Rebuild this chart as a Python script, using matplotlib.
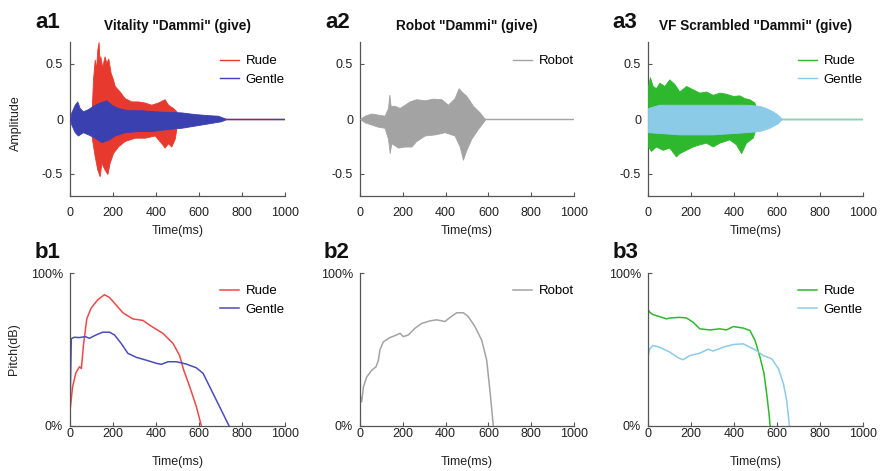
import matplotlib
matplotlib.use("Agg")
import matplotlib.pyplot as plt

plt.rcParams['font.family'] = ['Liberation Sans', 'DejaVu Sans']
plt.rcParams['axes.unicode_minus'] = False

# ---------------- waveform envelopes (time ms, amplitude) ----------------
a1_rude_up_t = [99, 107, 115, 121, 127, 133, 137, 141, 150, 156, 161, 169, 178, 189, 200, 208, 231, 254, 285, 316, 347, 378, 409, 440, 456, 479, 495, 502]
a1_rude_up_v = [0.0, 0.36, 0.54, 0.45, 0.63, 0.70, 0.52, 0.57, 0.47, 0.53, 0.57, 0.51, 0.55, 0.42, 0.36, 0.30, 0.25, 0.19, 0.16, 0.16, 0.15, 0.13, 0.15, 0.18, 0.13, 0.10, 0.07, 0.0]
a1_rude_lo_t = [99, 102, 115, 127, 138, 146, 161, 174, 184, 200, 223, 254, 301, 347, 394, 425, 440, 456, 471, 487, 502]
a1_rude_lo_v = [0.0, -0.18, -0.34, -0.46, -0.52, -0.40, -0.46, -0.50, -0.40, -0.31, -0.25, -0.20, -0.17, -0.17, -0.15, -0.22, -0.26, -0.22, -0.25, -0.18, 0.0]
a1_gent_up_t = [0, 6, 22, 34, 45, 60, 84, 107, 138, 169, 192, 223, 270, 332, 394, 456, 518, 580, 642, 688, 712, 727]
a1_gent_up_v = [0.0, 0.06, 0.13, 0.16, 0.10, 0.07, 0.09, 0.12, 0.15, 0.17, 0.13, 0.10, 0.08, 0.08, 0.07, 0.065, 0.06, 0.045, 0.035, 0.03, 0.012, 0.0]
a1_gent_lo_t = [0, 6, 22, 37, 60, 84, 115, 146, 177, 208, 254, 316, 378, 456, 518, 580, 642, 704, 727]
a1_gent_lo_v = [0.0, -0.05, -0.12, -0.15, -0.12, -0.14, -0.17, -0.21, -0.19, -0.15, -0.12, -0.11, -0.11, -0.09, -0.08, -0.06, -0.04, -0.02, 0.0]

a2_robot_up_t = [0, 22, 53, 84, 115, 131, 137, 143, 162, 185, 209, 232, 263, 302, 341, 380, 411, 442, 461, 474, 497, 528, 559, 579, 586]
a2_robot_up_v = [0.0, 0.03, 0.05, 0.04, 0.03, 0.10, 0.22, 0.12, 0.12, 0.10, 0.13, 0.16, 0.18, 0.17, 0.185, 0.18, 0.13, 0.19, 0.28, 0.25, 0.21, 0.12, 0.06, 0.01, 0.0]
a2_robot_lo_t = [0, 22, 53, 84, 115, 131, 139, 146, 178, 209, 240, 263, 302, 349, 396, 442, 466, 481, 497, 520, 551, 575, 586]
a2_robot_lo_v = [0.0, -0.03, -0.05, -0.07, -0.08, -0.18, -0.31, -0.22, -0.26, -0.25, -0.25, -0.20, -0.15, -0.14, -0.12, -0.15, -0.25, -0.37, -0.28, -0.18, -0.09, -0.03, 0.0]

a3_rude_up_t = [0, 9, 22, 37, 53, 76, 99, 122, 146, 177, 208, 239, 270, 301, 332, 363, 394, 425, 448, 471, 495, 510]
a3_rude_up_v = [0.30, 0.38, 0.30, 0.28, 0.33, 0.30, 0.36, 0.32, 0.25, 0.30, 0.27, 0.24, 0.25, 0.22, 0.24, 0.23, 0.21, 0.215, 0.19, 0.18, 0.15, 0.06]
a3_rude_lo_t = [0, 14, 37, 68, 99, 130, 146, 177, 208, 239, 270, 301, 332, 378, 409, 433, 456, 487, 510]
a3_rude_lo_v = [-0.25, -0.29, -0.25, -0.28, -0.26, -0.34, -0.31, -0.28, -0.25, -0.23, -0.215, -0.25, -0.215, -0.185, -0.23, -0.31, -0.215, -0.17, -0.03]
a3_gent_up_t = [0, 53, 146, 301, 456, 518, 549, 580, 603, 623]
a3_gent_up_v = [0.10, 0.13, 0.13, 0.13, 0.13, 0.12, 0.10, 0.07, 0.04, 0.0]
a3_gent_lo_t = [0, 146, 301, 456, 518, 565, 603, 623]
a3_gent_lo_v = [-0.12, -0.14, -0.14, -0.12, -0.11, -0.08, -0.04, 0.0]

# ---------------- pitch contours (time ms, percent) ----------------
b1_rude_t = [0, 2, 12, 28, 44, 53, 62, 78, 98, 129, 160, 184, 215, 246, 292, 339, 386, 432, 479, 510, 529, 557, 588, 611]
b1_rude_v = [10, 12.5, 25.6, 35, 38.7, 37.6, 52, 70, 77, 82.5, 85.8, 84, 79, 74, 70, 69, 64.5, 60.6, 54, 46, 36.5, 25.6, 12.5, 0]
b1_gent_t = [0, 2, 6, 20, 44, 72, 90, 121, 152, 184, 207, 238, 269, 308, 355, 401, 425, 456, 495, 541, 588, 619, 650, 681, 712, 740]
b1_gent_v = [15, 25.6, 57, 58, 57.8, 58.4, 57.3, 59.5, 61.3, 61.3, 59.5, 54, 47.5, 44.9, 43, 41, 40.3, 42, 42, 40.5, 38, 34.4, 25.6, 16.8, 8, 0]

b2_robot_t = [0, 3, 8, 16, 31, 55, 75, 86, 93, 109, 140, 171, 187, 202, 226, 257, 288, 327, 358, 397, 421, 452, 483, 506, 537, 569, 592, 607, 623]
b2_robot_v = [15, 19, 15.8, 25.6, 32, 36.5, 38.7, 43, 49.7, 55, 57.8, 59.5, 60.6, 58.4, 59.5, 63.9, 67, 68.7, 69.4, 68.3, 71, 74, 74, 71.5, 65, 56, 43, 23.4, 0]

b3_rude_t = [0, 1, 8, 23, 54, 86, 101, 148, 179, 210, 241, 288, 334, 365, 397, 443, 474, 498, 521, 540, 552, 563, 568]
b3_rude_v = [45, 76, 74.3, 72.8, 71.5, 70, 70.6, 71, 70.6, 67.8, 63.5, 62.8, 63.5, 62.8, 65, 64, 62.4, 55.9, 45, 34, 21, 8, 0]
b3_gent_t = [0, 1, 8, 23, 54, 101, 140, 163, 194, 241, 280, 303, 350, 397, 443, 474, 505, 536, 575, 607, 630, 645, 658]
b3_gent_v = [34, 46, 50.4, 52.6, 51.5, 48.3, 44.6, 43.3, 46, 47.6, 50.2, 49, 51.5, 53.3, 53.7, 51.5, 49.3, 46, 44, 37.4, 27.6, 16.7, 0]

x_ticks = [0, 200, 400, 600, 800, 1000]
amp_ticks = [-0.5, 0, 0.5]
amp_tick_labels = ['-0.5', '0', '0.5']
pitch_ticks = [0, 100]
pitch_tick_labels = ['0%', '100%']

titles = ['Vitality "Dammi" (give)', 'Robot "Dammi" (give)', 'VF Scrambled "Dammi" (give)']
panel_labels_a = ['a1', 'a2', 'a3']
panel_labels_b = ['b1', 'b2', 'b3']

RED = '#e8392e'
BLUE = '#3a40b0'
GRAY = '#a3a3a3'
GREEN = '#2eb82e'
LBLUE = '#8ccbe8'
PRED = '#f04848'
PBLUE = '#4a4cbc'

W, H = 882, 471
fig = plt.figure(figsize=(W / 100, H / 100), dpi=100)

cols_x = [(70, 285), (360, 574), (648, 863)]
row_a = (42, 196)
row_b = (273, 426)


def make_ax(cx, ry, xpad, labelpad):
    l = cx[0] / W
    w = (cx[1] - cx[0]) / W
    b = 1 - ry[1] / H
    h = (ry[1] - ry[0]) / H
    ax = fig.add_axes([l, b, w, h])
    for s in ['top', 'right']:
        ax.spines[s].set_visible(False)
    for s in ['left', 'bottom']:
        ax.spines[s].set_color('#555555')
        ax.spines[s].set_linewidth(0.9)
    ax.tick_params(direction='in', length=3, width=0.8, colors='#555555',
                   labelcolor='#222222', labelsize=9)
    ax.tick_params(axis='x', pad=xpad)
    ax.set_xlim(0, 1000)
    ax.set_xticks(x_ticks)
    ax.set_xlabel('Time(ms)', fontsize=9, color='#222222', labelpad=labelpad)
    return ax


def wave(ax, up_t, up_v, lo_t, lo_v, color, label, z):
    ax.fill_between(up_t, 0, up_v, color=color, lw=0.6, zorder=z)
    ax.fill_between(lo_t, 0, lo_v, color=color, lw=0.6, zorder=z)
    ax.plot([0, 1000], [0, 0], color=color, lw=1.0, label=label, zorder=z - 0.5)


def legend(ax, y_top_px, ry):
    frac = 1 - (y_top_px - ry[0]) / (ry[1] - ry[0])
    ax.legend(loc='upper right', bbox_to_anchor=(1.0, frac), frameon=False,
              fontsize=9.5, handlelength=1.4, handletextpad=0.55,
              borderpad=0, borderaxespad=0, labelspacing=0.5)


# ---- row a ----
axes_a = [make_ax(c, row_a, 8, 4) for c in cols_x]
for ax in axes_a:
    ax.set_ylim(-0.7, 0.7)
    ax.set_yticks(amp_ticks)
    ax.set_yticklabels(amp_tick_labels)
    ax.tick_params(axis='y', pad=5)

wave(axes_a[0], a1_rude_up_t, a1_rude_up_v, a1_rude_lo_t, a1_rude_lo_v, RED, 'Rude', 3)
wave(axes_a[0], a1_gent_up_t, a1_gent_up_v, a1_gent_lo_t, a1_gent_lo_v, BLUE, 'Gentle', 4)
wave(axes_a[1], a2_robot_up_t, a2_robot_up_v, a2_robot_lo_t, a2_robot_lo_v, GRAY, 'Robot', 3)
wave(axes_a[2], a3_rude_up_t, a3_rude_up_v, a3_rude_lo_t, a3_rude_lo_v, GREEN, 'Rude', 3)
wave(axes_a[2], a3_gent_up_t, a3_gent_up_v, a3_gent_lo_t, a3_gent_lo_v, LBLUE, 'Gentle', 4)
axes_a[0].set_ylabel('Amplitude', fontsize=9, color='#222222')
axes_a[0].yaxis.set_label_coords(-0.222, 0.47)
for ax in axes_a:
    legend(ax, 55, row_a)

# ---- row b ----
axes_b = [make_ax(c, row_b, 1.5, 11.5) for c in cols_x]
for ax in axes_b:
    ax.set_ylim(0, 100)
    ax.set_yticks(pitch_ticks)
    ax.set_yticklabels(pitch_tick_labels)
    ax.tick_params(axis='y', pad=5)

axes_b[0].plot(b1_rude_t, b1_rude_v, color=PRED, lw=1.1, label='Rude')
axes_b[0].plot(b1_gent_t, b1_gent_v, color=PBLUE, lw=1.1, label='Gentle')
axes_b[1].plot(b2_robot_t, b2_robot_v, color=GRAY, lw=1.1, label='Robot')
axes_b[2].plot(b3_rude_t, b3_rude_v, color=GREEN, lw=1.1, label='Rude')
axes_b[2].plot(b3_gent_t, b3_gent_v, color=LBLUE, lw=1.1, label='Gentle')
axes_b[0].set_ylabel('Pitch(dB)', fontsize=9, color='#222222')
axes_b[0].yaxis.set_label_coords(-0.232, 0.50)
for ax in axes_b:
    legend(ax, 285, row_b)

# ---- titles & panel labels ----
title_x = [(c[0] + c[1]) / 2 / W for c in cols_x]
for i, t in enumerate(titles):
    fig.text(title_x[i], 1 - 26 / H, t, ha='center', va='center',
             fontsize=9.8, fontweight='bold', color='#111111')

lab_x_a = [35, 325, 612]
lab_x_b = [35, 324, 613]
for i in range(3):
    fig.text(lab_x_a[i] / W, 1 - 28 / H, panel_labels_a[i], ha='left', va='baseline',
             fontsize=16, fontweight='bold', color='#111111')
    fig.text(lab_x_b[i] / W, 1 - 258 / H, panel_labels_b[i], ha='left', va='baseline',
             fontsize=16, fontweight='bold', color='#111111')

fig.savefig('out.png', dpi=100, facecolor='white')
